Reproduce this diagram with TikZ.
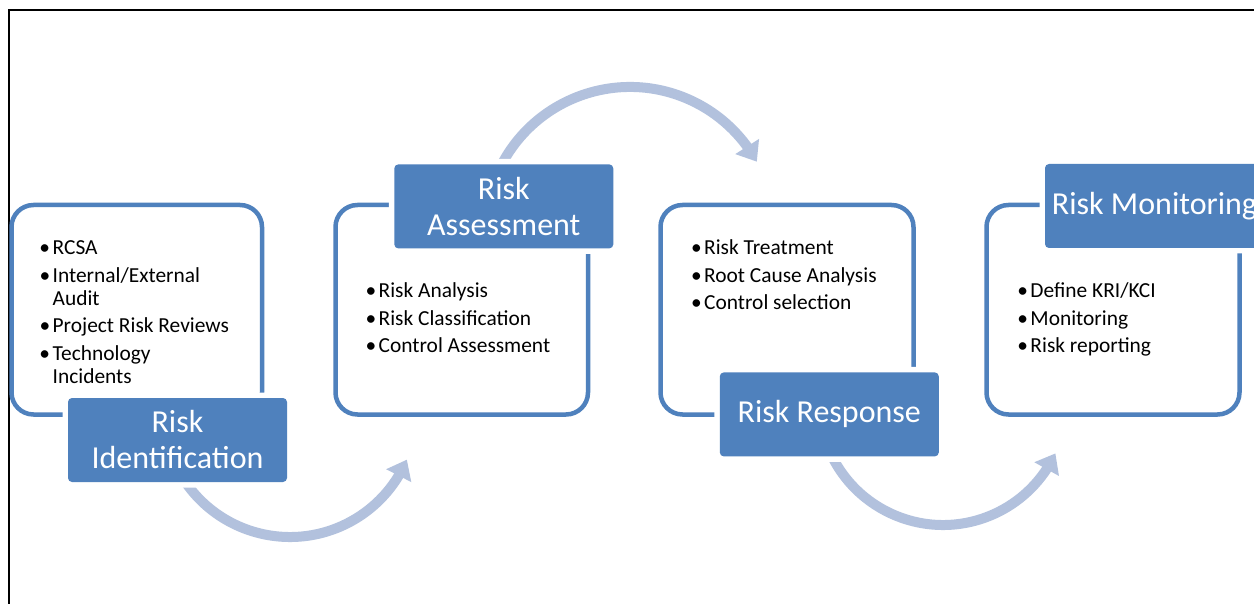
\documentclass[tikz,border=0pt]{standalone}
\usepackage{fontspec}
\setmainfont{Carlito}
\usetikzlibrary{arrows.meta,bending}
\definecolor{accent}{HTML}{4F81BD}
\definecolor{arrowc}{HTML}{B2C1DD}
\newcommand{\bul}{\makebox[12pt][l]{\hspace{-1.2pt}•}}
\begin{document}
\begin{tikzpicture}[x=1pt,y=-1pt,
  frame/.style={line width=1.8pt, draw=black},
  stepbox/.style={draw=accent, line width=4.5pt, rounded corners=22pt},
  steplabel/.style={fill=accent, rounded corners=4pt, text=white,
    font=\fontsize{32}{36}\selectfont, align=center,
    minimum width=219pt, minimum height=84pt, inner sep=0pt,
    preaction={draw=white, line width=11pt}},
  flow/.style={draw=arrowc, line width=10pt, -{Triangle[width=27pt,length=18pt]}},
  bullets/.style={font=\fontsize{21.4}{23}\selectfont, anchor=base west, inner sep=0pt, align=left}
]
\useasboundingbox (0,0) rectangle (1254,604);
\fill[white] (0,0) rectangle (1254,604);
\draw[frame] (8.8,604) -- (8.8,9.7) -- (1254,9.7);

% outer boxes
\draw[stepbox] (11.5,205) rectangle (262,414.5);
\draw[stepbox] (335.5,205) rectangle (588,414.5);
\draw[stepbox] (660.5,205) rectangle (913.5,414.5);
\draw[stepbox] (986.5,205) rectangle (1239.5,414.5);

% bullet texts
\node[bullets] (t1) at (40.5,255) {\begin{tabular}[t]{@{}l@{}l@{}}\bul&RCSA\\[4.5pt]\bul&Internal/External\\&Audit\\[4.5pt]\bul&Project Risk Reviews\\[4.5pt]\bul&Technology\\&Incidents\end{tabular}};
\node[bullets] (t2) at (366.5,298) {\begin{tabular}[t]{@{}l@{}l@{}}\bul&Risk Analysis\\[4.5pt]\bul&Risk Classification\\[4.5pt]\bul&Control Assessment\end{tabular}};
\node[bullets] (t3) at (692,255) {\begin{tabular}[t]{@{}l@{}l@{}}\bul&Risk Treatment\\[4.5pt]\bul&Root Cause Analysis\\[4.5pt]\bul&Control selection\end{tabular}};
\node[bullets] (t4) at (1018.3,298) {\begin{tabular}[t]{@{}l@{}l@{}}\bul&Define KRI/KCI\\[4.5pt]\bul&Monitoring\\[4.5pt]\bul&Risk reporting\end{tabular}};

% flow arrows
\coordinate (a1s) at (180.0,473.5);
\coordinate (a2s) at (498.6,170.7);
\coordinate (a3s) at (826.5,443.4);
\draw[flow] (a1s) arc[start angle=150, end angle=23, radius=127];
\draw[flow] (a2s) arc[start angle=205, end angle=331, radius=145];
\draw[flow] (a3s) arc[start angle=160, end angle=25, radius=124];

% labels
\node[steplabel] (l1) at (177.5,440) {Risk\\Identification};
\node[steplabel] (l2) at (503.8,206.4) {Risk\\Assessment};
\node[steplabel] (l3) at (829.3,414.4) {Risk Response};
\node[steplabel] (l4) at (1154.5,206) {Risk Monitoring};
\end{tikzpicture}
\end{document}
